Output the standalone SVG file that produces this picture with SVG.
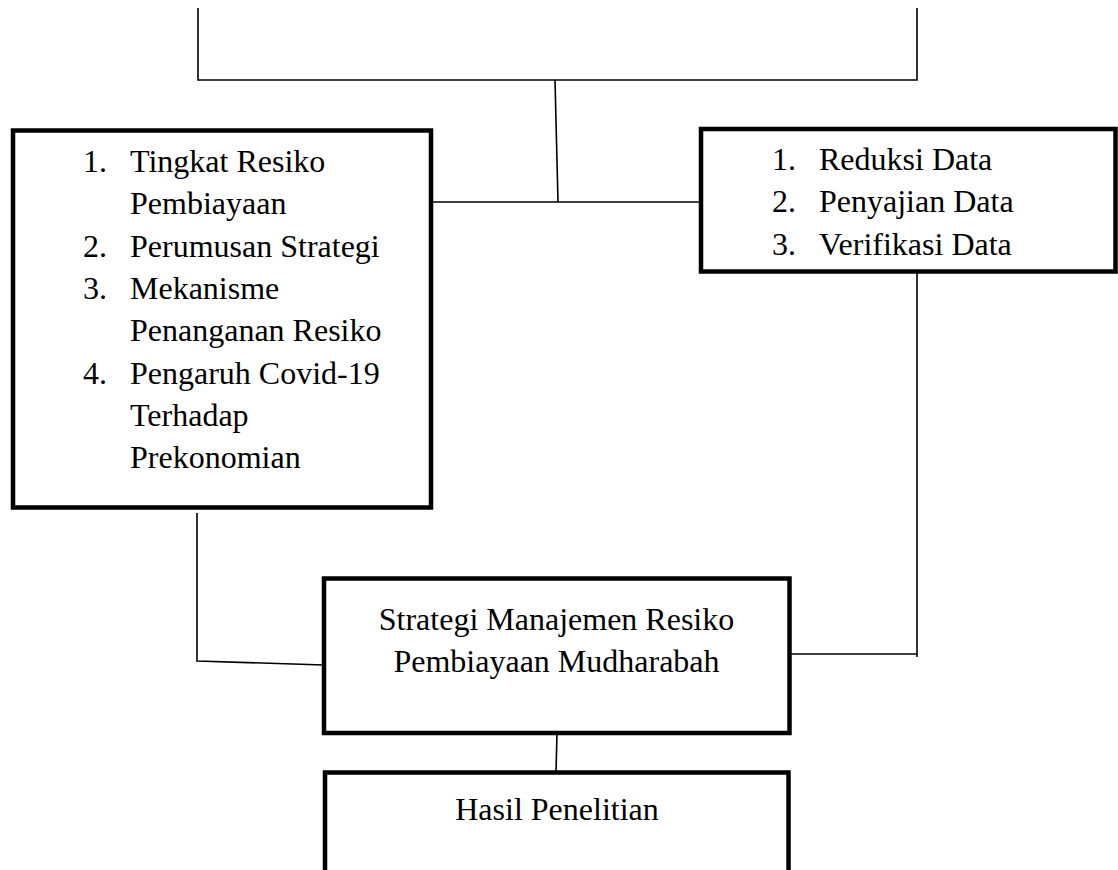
<svg xmlns="http://www.w3.org/2000/svg" width="1118" height="870" viewBox="0 0 1118 870">
<style>
.box{fill:#fff;stroke:#000;stroke-width:4.5}
.ln{fill:none;stroke:#000;stroke-width:1.6}
text{font-family:"Liberation Serif","Times New Roman",serif;font-size:32px;fill:#000}
.c{text-anchor:middle}
</style>
<rect width="1118" height="870" fill="#fff"/>
<g id="connectors">
<polyline class="ln" points="198,8 198,80 917,80 917,8"/>
<line class="ln" x1="555" y1="80" x2="558" y2="202"/>
<line class="ln" x1="431" y1="202" x2="701" y2="202"/>
<polyline class="ln" points="197,513 197,661 324,665"/>
<line class="ln" x1="917" y1="271" x2="917" y2="657"/>
<line class="ln" x1="789" y1="654" x2="917" y2="654"/>
<line class="ln" x1="557" y1="733" x2="556" y2="772"/>
</g>
<g id="node-left">
<rect class="box" x="13" y="130.5" width="418" height="377"/>
<text x="83" y="172">1.</text><text x="130" y="172">Tingkat Resiko</text>
<text x="130" y="214">Pembiayaan</text>
<text x="83" y="257">2.</text><text x="130" y="257">Perumusan Strategi</text>
<text x="83" y="299">3.</text><text x="130" y="299">Mekanisme</text>
<text x="130" y="341">Penanganan Resiko</text>
<text x="83" y="384">4.</text><text x="130" y="384">Pengaruh Covid-19</text>
<text x="130" y="426">Terhadap</text>
<text x="130" y="468">Prekonomian</text>
</g>
<g id="node-right">
<rect class="box" x="701" y="129" width="414.5" height="142.5"/>
<text x="772" y="170">1.</text><text x="819" y="170">Reduksi Data</text>
<text x="772" y="212">2.</text><text x="819" y="212">Penyajian Data</text>
<text x="772" y="255">3.</text><text x="819" y="255">Verifikasi Data</text>
</g>
<g id="node-strategi">
<rect class="box" x="324" y="578.5" width="465.5" height="154.5"/>
<text class="c" x="556.5" y="630">Strategi Manajemen Resiko</text>
<text class="c" x="556.5" y="672">Pembiayaan Mudharabah</text>
</g>
<g id="node-hasil">
<rect class="box" x="325" y="772.5" width="463.5" height="130"/>
<text class="c" x="557" y="820">Hasil Penelitian</text>
</g>
</svg>
